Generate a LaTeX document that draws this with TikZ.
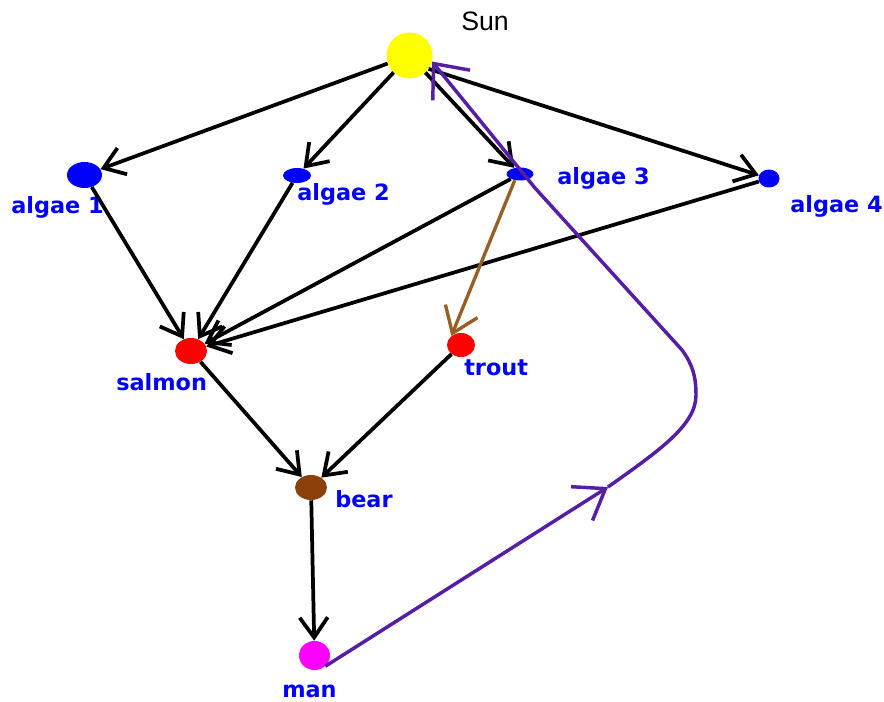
\documentclass[tikz,border=0pt]{standalone}
\usepackage{fontspec}
\setmainfont{DejaVu Sans}
\newfontfamily\sunfont{Liberation Sans}
\usetikzlibrary{arrows.meta,shapes.geometric}

\definecolor{algaeblue}{RGB}{0,0,255}
\definecolor{fishred}{RGB}{255,0,0}
\definecolor{sunyellow}{RGB}{255,255,0}
\definecolor{manpink}{RGB}{255,0,255}
\definecolor{bearbrown}{RGB}{140,65,10}
\definecolor{troutbrown}{RGB}{150,95,35}
\definecolor{cyclepurple}{RGB}{85,30,165}

% one drawing unit = one pixel of the 884 x 702 canvas
\newdimen\pxu
\pxu=0.75pt

\tikzset{
  organism/.style={ellipse, inner sep=0pt, draw=none},
  lbl/.style={font=\bfseries\fontsize{16.8}{18}\selectfont, text=algaeblue,
    anchor=base west, inner sep=0pt},
  feed/.style={draw=black, line width=2.8pt,
    -{Straight Barb[length=15pt,width=21pt]}},
  brownfeed/.style={draw=troutbrown, line width=2.5pt,
    -{Straight Barb[length=18pt,width=26pt]}},
  cycle/.style={draw=cyclepurple, line width=2.6pt, line join=round},
}

\begin{document}
\begin{tikzpicture}[x=0.75pt,y=-0.75pt]
  \useasboundingbox (0,0) rectangle (884,702);
  \fill[white] (0,0) rectangle (884,702);

  % organisms
  \node[organism, fill=sunyellow, minimum width=46\pxu, minimum height=46\pxu] (sun) at (409.5,55.5) {};
  \node[organism, fill=algaeblue, minimum width=35\pxu, minimum height=26\pxu] (algae1) at (84.5,175) {};
  \node[organism, fill=algaeblue, minimum width=28\pxu, minimum height=15\pxu] (algae2) at (297,175.5) {};
  \node[organism, fill=algaeblue, minimum width=27\pxu, minimum height=13\pxu] (algae3) at (520,174) {};
  \node[organism, fill=algaeblue, minimum width=21\pxu, minimum height=18\pxu] (algae4) at (769,178.5) {};
  \node[organism, fill=fishred, minimum width=32\pxu, minimum height=26\pxu] (salmon) at (191,351) {};
  \node[organism, fill=fishred, minimum width=28\pxu, minimum height=24\pxu] (trout) at (461,345) {};
  \node[organism, fill=bearbrown, minimum width=32\pxu, minimum height=25\pxu] (bear) at (311,487.5) {};
  \node[organism, fill=manpink, minimum width=31\pxu, minimum height=29\pxu] (man) at (314.5,655.5) {};

  % labels
  \node[anchor=base west, inner sep=0pt, font=\sunfont\fontsize{20}{22}\selectfont] (lsun) at (461,31) {Sun};
  \node[lbl] (lalgae1) at (11,214) {algae 1};
  \node[lbl] (lalgae2) at (297,200) {algae 2};
  \node[lbl] (lalgae3) at (557,185) {algae 3};
  \node[lbl] (lalgae4) at (790,213) {algae 4};
  \node[lbl] (lsalmon) at (116,390) {salmon};
  \node[lbl] (ltrout) at (464,375) {trout};
  \node[lbl] (lbear) at (335,507) {bear};
  \node[lbl] (lman) at (282,697) {man};

  % energy from the sun to the algae
  \draw[feed] (sun) -- (algae1);
  \draw[feed] (sun) -- (algae2);
  \draw[feed] (sun) -- (algae3);
  \draw[feed] (sun.-35) -- (algae4);

  % algae eaten by salmon
  \draw[feed] (algae1) -- (salmon);
  \draw[feed] (algae2) -- (salmon);
  \draw[feed] (algae3) -- (salmon);
  \draw[feed] (algae4) -- (salmon);

  % algae eaten by trout
  \draw[brownfeed] (algae3.-130) -- (trout.137);

  % fish eaten by bear, bear eaten by man
  \draw[feed] (salmon) -- (bear);
  \draw[feed] (trout) -- (bear);
  \draw[feed] (bear) -- (man);

  % cycle back to the sun
  \coordinate (c1) at (608,487);
  \coordinate (c2) at (696,395);
  \coordinate (c3) at (682,350);
  \coordinate (c4) at (535,188);
  \draw[cycle, -{Straight Barb[length=21pt,width=30pt]}] (man.-45) -- (c1);
  \draw[cycle, -{Straight Barb[length=21pt,width=36pt]}]
    (c1) .. controls (660,450) and (696,425) .. (c2)
         .. controls (696,375) and (692,364) .. (c3)
         -- (c4) -- (sun.-15);
\end{tikzpicture}
\end{document}
